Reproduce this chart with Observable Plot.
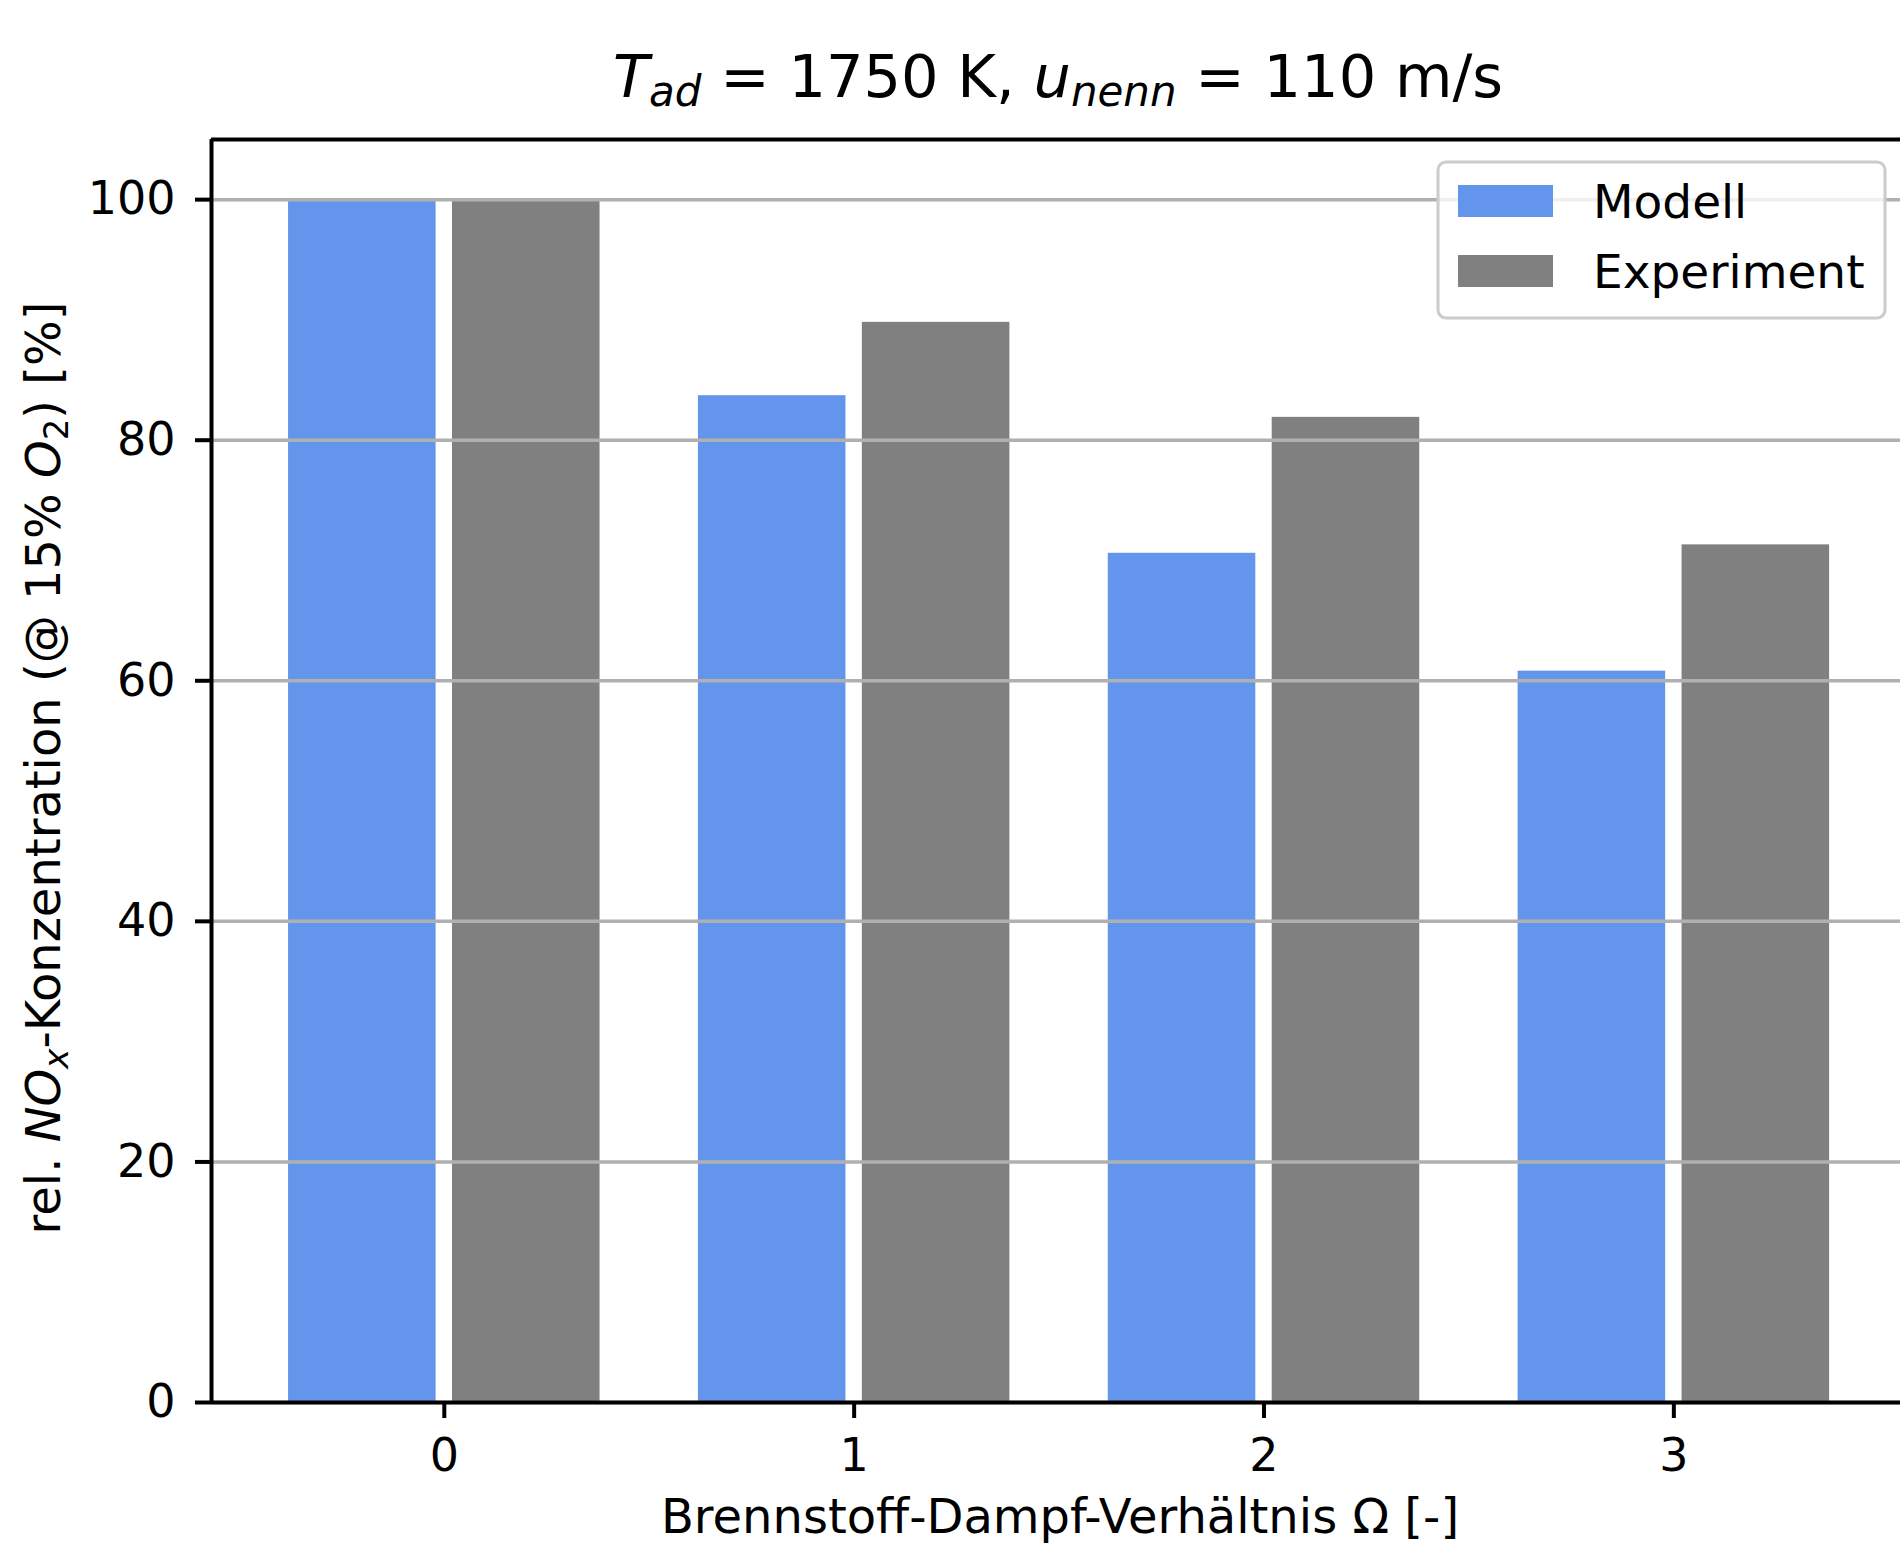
<!DOCTYPE html>
<html><head><meta charset="utf-8">
<script src="https://cdn.jsdelivr.net/npm/d3@7"></script>
<script src="https://cdn.jsdelivr.net/npm/@observablehq/plot@0.6"></script>
<style>
html,body{margin:0;padding:0;background:#fff;overflow:hidden;}
#chart{position:relative;width:1900px;height:1545px;}
</style></head><body><div id="chart"></div>
<script>
// ---- data ----
const omega = [0, 1, 2, 3];
const modell = [100, 83.7, 70.6, 60.8];
const experiment = [100, 89.8, 81.9, 71.3];
const seriesNames = ["Modell", "Experiment"];
const seriesColors = ["#6495ED", "#808080"];
const xTicks = [0, 1, 2, 3];
const yTicks = [0, 20, 40, 60, 80, 100];

const rows = [];
omega.forEach((o, i) => {
  rows.push({omega: o, series: "Modell", value: modell[i]});
  rows.push({omega: o, series: "Experiment", value: experiment[i]});
});

// ---- style ----
const barW = 0.36;
const shift = {Modell: -0.2, Experiment: 0.2};
const xDomain = [-0.568, 3.553];
const yDomain = [0, 105];
const font = "'DejaVu Sans', sans-serif";
const tickFs = 46, labelFs = 48, legendFs = 47, titleFs = 59;

const plot = Plot.plot({
  width: 1900, height: 1545,
  marginLeft: 211, marginRight: 0, marginTop: 139, marginBottom: 143,
  style: {fontFamily: font, fontSize: tickFs + "px", color: "black", background: "white"},
  x: {type: "linear", domain: xDomain},
  y: {type: "linear", domain: yDomain},
  color: {domain: seriesNames, range: seriesColors},
  marks: [
    Plot.rectY(rows, {
      x1: d => d.omega + shift[d.series] - barW / 2,
      x2: d => d.omega + shift[d.series] + barW / 2,
      y1: 0, y2: "value", fill: "series", inset: 0
    }),
    Plot.gridY(yTicks, {stroke: "#b0b0b0", strokeOpacity: 1, strokeWidth: 3.5}),
    Plot.ruleX([xDomain[0]], {y1: yDomain[0], y2: yDomain[1], stroke: "black", strokeWidth: 4}),
    Plot.ruleY([yDomain[0], yDomain[1]], {stroke: "black", strokeWidth: 4}),
    Plot.axisX(xTicks, {tickSize: 16, tickPadding: 20, strokeWidth: 4, fontSize: tickFs, tickFormat: d => String(d), label: null}),
    Plot.axisY(yTicks, {tickSize: 16, tickPadding: 20, strokeWidth: 4, fontSize: tickFs, tickFormat: d => String(d), label: null})
  ]
});

document.getElementById("chart").appendChild(plot);
const svg = d3.select(plot);

// Title
const t = svg.append("text").attr("x", 1058).attr("y", 97).attr("text-anchor", "middle")
  .attr("font-size", titleFs).attr("font-family", font).attr("fill", "black");
t.append("tspan").attr("font-style", "italic").text("T");
t.append("tspan").attr("font-style", "italic").attr("font-size", 42).attr("dy", 9).text("ad");
t.append("tspan").attr("dy", -9).text(" = 1750 K, ");
t.append("tspan").attr("font-style", "italic").text("u");
t.append("tspan").attr("font-style", "italic").attr("font-size", 42).attr("dy", 9).text("nenn");
t.append("tspan").attr("dy", -9).text(" = 110 m/s");

// X label
svg.append("text").attr("x", 1060).attr("y", 1533).attr("text-anchor", "middle")
  .attr("font-size", labelFs).attr("font-family", font).attr("fill", "black")
  .text("Brennstoff-Dampf-Verhältnis Ω [-]");

// Y label
const yl = svg.append("text").attr("transform", "translate(60,768) rotate(-90)").attr("text-anchor", "middle")
  .attr("font-size", labelFs).attr("font-family", font).attr("fill", "black");
yl.append("tspan").text("rel. ");
yl.append("tspan").attr("font-style", "italic").text("NO");
yl.append("tspan").attr("font-style", "italic").attr("font-size", 34).attr("dy", 8).text("x");
yl.append("tspan").attr("dy", -8).text("-Konzentration (@ 15% ");
yl.append("tspan").attr("font-style", "italic").text("O");
yl.append("tspan").attr("font-size", 34).attr("dy", 8).text("2");
yl.append("tspan").attr("dy", -8).text(") [%]");

// Legend
const lg = svg.append("g");
lg.append("rect").attr("x", 1438).attr("y", 162).attr("width", 447).attr("height", 156).attr("rx", 8)
  .attr("fill", "white").attr("fill-opacity", 0.8).attr("stroke", "#cccccc").attr("stroke-width", 3);
seriesNames.forEach((name, i) => {
  const y0 = 185 + i * 70;
  lg.append("rect").attr("x", 1458).attr("y", y0).attr("width", 95).attr("height", 32).attr("fill", seriesColors[i]);
  lg.append("text").attr("x", 1593).attr("y", y0 + 33).attr("text-anchor", "start")
    .attr("font-size", legendFs).attr("font-family", font).attr("fill", "black").text(name);
});
</script></body></html>
